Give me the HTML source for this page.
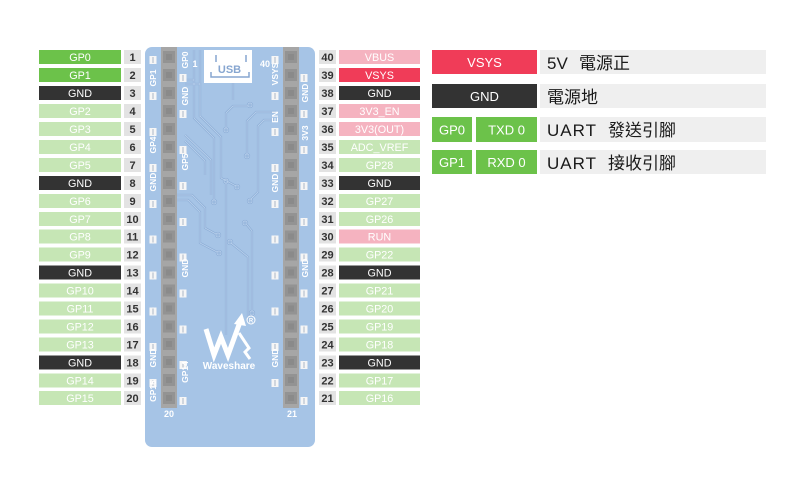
<!DOCTYPE html>
<html><head><meta charset="utf-8"><style>
html,body{margin:0;padding:0;background:#fff;}
svg{display:block;}
.l{font-family:"Liberation Sans","Noto Sans CJK TC",sans-serif;font-size:10.8px;fill:#fff;text-anchor:middle;}
.n{font-family:"Liberation Sans",sans-serif;font-size:11px;font-weight:bold;fill:#333;text-anchor:middle;}
.r{font-family:"Liberation Sans",sans-serif;font-size:8.5px;font-weight:bold;fill:#fff;text-anchor:middle;}
.b{font-family:"Liberation Sans",sans-serif;font-size:9px;font-weight:bold;fill:#fff;text-anchor:middle;}
.k{font-family:"Liberation Sans","Noto Sans CJK TC",sans-serif;font-size:13px;fill:#fff;text-anchor:middle;}
.t{font-family:"Liberation Sans","Noto Sans CJK TC",sans-serif;font-size:17px;fill:#1a1a1a;}
.u{letter-spacing:1px;}
.tr{fill:none;stroke:#8cadd6;stroke-width:2.2;}
.tr2{fill:none;stroke:#b8d0ec;stroke-width:0.9;}
</style></head><body>
<svg width="800" height="500" viewBox="0 0 800 500" xmlns="http://www.w3.org/2000/svg">
<defs>
<g id="pad"><rect x="-0.5" y="0" width="7" height="8" fill="#f6f6f6"/><rect x="2.5" y="1" width="1" height="6" fill="#a9b6c6"/></g>
<g id="pin"><rect x="0" y="0" width="12" height="12" fill="#939393"/><rect x="3" y="3" width="6" height="6" fill="#8a8a8a"/></g>
<g id="traces">
<path d="M185,80 H194 V118 L214,138 V200"/><circle cx="214" cy="202" r="2"/>
<path d="M185,84 H200 V116 L221,137 V178 L236,186"/><circle cx="237" cy="187" r="2"/>
<path d="M226,128 V113 L233,106 H248"/><circle cx="226" cy="130" r="2"/><circle cx="250" cy="105" r="2"/>
<path d="M276,112 H256 L247,121 V154"/><circle cx="247" cy="156" r="2"/>
<path d="M276,120 H264 L258,126 V192 L251,199"/><circle cx="250" cy="201" r="2"/>
<path d="M185,135 L211,160 V195"/>
<path d="M185,141 L205,161 V175"/>
<path d="M177,195 H192 L205,208 V228 L216,234"/><circle cx="218" cy="235" r="2"/>
<path d="M177,200 H188 L200,212 V243 L217,252"/><circle cx="219" cy="253" r="2"/>
<path d="M231,243 L248,257 V322"/><circle cx="230" cy="242" r="2"/>
<path d="M226,183 V335"/><circle cx="226" cy="181" r="2"/>
<path d="M247,225 L252,231 V311"/><circle cx="245" cy="223" r="2"/><circle cx="252" cy="313" r="2"/>
<path d="M200,117 V50"/><path d="M194,50 V80"/>
<path d="M233,60 V100"/>
</g>
</defs>
<rect width="800" height="500" fill="#fff"/>

<!-- Board -->
<rect x="145" y="47" width="170" height="400" rx="7" fill="#a6c4e6"/>

<!-- traces -->
<use href="#traces" class="tr"/>
<use href="#traces" class="tr2"/>

<!-- USB -->
<rect x="204" y="50" width="48" height="33" fill="#fff"/>
<g fill="none" stroke="#87a6d0" stroke-width="1.5">
<path d="M216,55 V62"/><path d="M246,55 V62"/>
<path d="M211,72 V77 H249 V72"/>
</g>
<text x="229.5" y="73" font-family="Liberation Sans, sans-serif" font-size="11" font-weight="bold" fill="#87a6d0" text-anchor="middle">USB</text>

<!-- headers -->
<rect x="161" y="47" width="16" height="361" fill="#a6a6a6"/>
<rect x="283" y="47" width="16" height="361" fill="#a6a6a6"/>
<g>
<use href="#pin" x="163" y="51"/><use href="#pin" x="163" y="69"/><use href="#pin" x="163" y="87"/><use href="#pin" x="163" y="105"/><use href="#pin" x="163" y="123"/><use href="#pin" x="163" y="141"/><use href="#pin" x="163" y="159"/><use href="#pin" x="163" y="177"/><use href="#pin" x="163" y="195"/><use href="#pin" x="163" y="213"/><use href="#pin" x="163" y="230.5"/><use href="#pin" x="163" y="248.5"/><use href="#pin" x="163" y="266.5"/><use href="#pin" x="163" y="284.5"/><use href="#pin" x="163" y="302.5"/><use href="#pin" x="163" y="320.5"/><use href="#pin" x="163" y="338"/><use href="#pin" x="163" y="356"/><use href="#pin" x="163" y="374"/><use href="#pin" x="163" y="392"/>
<use href="#pin" x="285" y="51"/><use href="#pin" x="285" y="69"/><use href="#pin" x="285" y="87"/><use href="#pin" x="285" y="105"/><use href="#pin" x="285" y="123"/><use href="#pin" x="285" y="141"/><use href="#pin" x="285" y="159"/><use href="#pin" x="285" y="177"/><use href="#pin" x="285" y="195"/><use href="#pin" x="285" y="213"/><use href="#pin" x="285" y="230.5"/><use href="#pin" x="285" y="248.5"/><use href="#pin" x="285" y="266.5"/><use href="#pin" x="285" y="284.5"/><use href="#pin" x="285" y="302.5"/><use href="#pin" x="285" y="320.5"/><use href="#pin" x="285" y="338"/><use href="#pin" x="285" y="356"/><use href="#pin" x="285" y="374"/><use href="#pin" x="285" y="392"/>
</g>

<!-- pads -->
<g>
<use href="#pad" x="150" y="56"/><use href="#pad" x="180" y="74"/><use href="#pad" x="150" y="92"/><use href="#pad" x="180" y="110"/><use href="#pad" x="150" y="128"/><use href="#pad" x="180" y="146"/><use href="#pad" x="150" y="164"/><use href="#pad" x="180" y="182"/><use href="#pad" x="150" y="200"/><use href="#pad" x="180" y="218"/><use href="#pad" x="150" y="235.5"/><use href="#pad" x="180" y="253.5"/><use href="#pad" x="150" y="271.5"/><use href="#pad" x="180" y="289.5"/><use href="#pad" x="150" y="307.5"/><use href="#pad" x="180" y="325.5"/><use href="#pad" x="150" y="343"/><use href="#pad" x="180" y="361"/><use href="#pad" x="150" y="379"/><use href="#pad" x="180" y="397"/>
<use href="#pad" x="272" y="56"/><use href="#pad" x="301" y="74"/><use href="#pad" x="272" y="92"/><use href="#pad" x="301" y="110"/><use href="#pad" x="272" y="128"/><use href="#pad" x="301" y="146"/><use href="#pad" x="272" y="164"/><use href="#pad" x="301" y="182"/><use href="#pad" x="272" y="200"/><use href="#pad" x="301" y="218"/><use href="#pad" x="272" y="235.5"/><use href="#pad" x="301" y="253.5"/><use href="#pad" x="272" y="271.5"/><use href="#pad" x="301" y="289.5"/><use href="#pad" x="272" y="307.5"/><use href="#pad" x="301" y="325.5"/><use href="#pad" x="272" y="343"/><use href="#pad" x="301" y="361"/><use href="#pad" x="272" y="379"/><use href="#pad" x="301" y="397"/>
</g>

<!-- rotated board labels -->
<g>
<text class="r" transform="translate(153,78) rotate(-90)" dy="3">GP1</text>
<text class="r" transform="translate(153,145) rotate(-90)" dy="3">GP4</text>
<text class="r" transform="translate(153,182) rotate(-90)" dy="3">GND</text>
<text class="r" transform="translate(153,358) rotate(-90)" dy="3">GND</text>
<text class="r" transform="translate(153,391) rotate(-90)" dy="3">GP15</text>
<text class="r" transform="translate(185,60) rotate(-90)" dy="3">GP0</text>
<text class="r" transform="translate(185,96) rotate(-90)" dy="3">GND</text>
<text class="r" transform="translate(185,162) rotate(-90)" dy="3">GP5</text>
<text class="r" transform="translate(185,268) rotate(-90)" dy="3">GND</text>
<text class="r" transform="translate(185,372) rotate(-90)" dy="3">GP14</text>
<text class="r" transform="translate(275,74) rotate(-90)" dy="3">VSYS</text>
<text class="r" transform="translate(275,117) rotate(-90)" dy="3">EN</text>
<text class="r" transform="translate(275,183) rotate(-90)" dy="3">GND</text>
<text class="r" transform="translate(275,358) rotate(-90)" dy="3">GND</text>
<text class="r" transform="translate(305,93) rotate(-90)" dy="3">GND</text>
<text class="r" transform="translate(305,133) rotate(-90)" dy="3">3V3</text>
<text class="r" transform="translate(305,268) rotate(-90)" dy="3">GND</text>
<text class="b" x="195" y="67">1</text>
<text class="b" x="265" y="67">40</text>
<text class="b" x="169" y="417">20</text>
<text class="b" x="292" y="417">21</text>
</g>

<!-- logo -->
<g fill="none" stroke="#fff" stroke-linejoin="miter">
<polyline points="206,329 214,355 221,337 228,355 240,322" stroke-width="5"/>
<polyline points="239,333 249,348 245,352 250,359" stroke-width="3"/>
</g>
<polygon points="234,324 242,313 246,326" fill="#fff"/>
<circle cx="251" cy="320" r="4" fill="none" stroke="#fff" stroke-width="1"/>
<text x="251" y="322.5" font-family="Liberation Sans, sans-serif" font-size="6" font-weight="bold" fill="#fff" text-anchor="middle">R</text>
<text x="229" y="369" font-family="Liberation Sans, sans-serif" font-size="10" font-weight="bold" fill="#fff" text-anchor="middle">Waveshare</text>

<!-- pin rows -->
<g>
<g transform="translate(0,50)"><rect x="39" width="82" height="14" fill="#6cc24a"/><text class="l" x="80" y="11">GP0</text><rect x="124" width="17" height="14" fill="#e3e3e3"/><text class="n" x="132.5" y="11">1</text><rect x="319" width="17" height="14" fill="#e3e3e3"/><text class="n" x="327.5" y="11">40</text><rect x="339" width="81" height="14" fill="#f5b3c0"/><text class="l" x="379.5" y="11">VBUS</text></g>
<g transform="translate(0,68)"><rect x="39" width="82" height="14" fill="#6cc24a"/><text class="l" x="80" y="11">GP1</text><rect x="124" width="17" height="14" fill="#e3e3e3"/><text class="n" x="132.5" y="11">2</text><rect x="319" width="17" height="14" fill="#e3e3e3"/><text class="n" x="327.5" y="11">39</text><rect x="339" width="81" height="14" fill="#f03c58"/><text class="l" x="379.5" y="11">VSYS</text></g>
<g transform="translate(0,86)"><rect x="39" width="82" height="14" fill="#333"/><text class="l" x="80" y="11">GND</text><rect x="124" width="17" height="14" fill="#e3e3e3"/><text class="n" x="132.5" y="11">3</text><rect x="319" width="17" height="14" fill="#e3e3e3"/><text class="n" x="327.5" y="11">38</text><rect x="339" width="81" height="14" fill="#333"/><text class="l" x="379.5" y="11">GND</text></g>
<g transform="translate(0,104)"><rect x="39" width="82" height="14" fill="#c6e6b5"/><text class="l" x="80" y="11">GP2</text><rect x="124" width="17" height="14" fill="#e3e3e3"/><text class="n" x="132.5" y="11">4</text><rect x="319" width="17" height="14" fill="#e3e3e3"/><text class="n" x="327.5" y="11">37</text><rect x="339" width="81" height="14" fill="#f5b3c0"/><text class="l" x="379.5" y="11">3V3_EN</text></g>
<g transform="translate(0,122)"><rect x="39" width="82" height="14" fill="#c6e6b5"/><text class="l" x="80" y="11">GP3</text><rect x="124" width="17" height="14" fill="#e3e3e3"/><text class="n" x="132.5" y="11">5</text><rect x="319" width="17" height="14" fill="#e3e3e3"/><text class="n" x="327.5" y="11">36</text><rect x="339" width="81" height="14" fill="#f5b3c0"/><text class="l" x="379.5" y="11">3V3(OUT)</text></g>
<g transform="translate(0,140)"><rect x="39" width="82" height="14" fill="#c6e6b5"/><text class="l" x="80" y="11">GP4</text><rect x="124" width="17" height="14" fill="#e3e3e3"/><text class="n" x="132.5" y="11">6</text><rect x="319" width="17" height="14" fill="#e3e3e3"/><text class="n" x="327.5" y="11">35</text><rect x="339" width="81" height="14" fill="#c6e6b5"/><text class="l" x="379.5" y="11">ADC_VREF</text></g>
<g transform="translate(0,158)"><rect x="39" width="82" height="14" fill="#c6e6b5"/><text class="l" x="80" y="11">GP5</text><rect x="124" width="17" height="14" fill="#e3e3e3"/><text class="n" x="132.5" y="11">7</text><rect x="319" width="17" height="14" fill="#e3e3e3"/><text class="n" x="327.5" y="11">34</text><rect x="339" width="81" height="14" fill="#c6e6b5"/><text class="l" x="379.5" y="11">GP28</text></g>
<g transform="translate(0,176)"><rect x="39" width="82" height="14" fill="#333"/><text class="l" x="80" y="11">GND</text><rect x="124" width="17" height="14" fill="#e3e3e3"/><text class="n" x="132.5" y="11">8</text><rect x="319" width="17" height="14" fill="#e3e3e3"/><text class="n" x="327.5" y="11">33</text><rect x="339" width="81" height="14" fill="#333"/><text class="l" x="379.5" y="11">GND</text></g>
<g transform="translate(0,194)"><rect x="39" width="82" height="14" fill="#c6e6b5"/><text class="l" x="80" y="11">GP6</text><rect x="124" width="17" height="14" fill="#e3e3e3"/><text class="n" x="132.5" y="11">9</text><rect x="319" width="17" height="14" fill="#e3e3e3"/><text class="n" x="327.5" y="11">32</text><rect x="339" width="81" height="14" fill="#c6e6b5"/><text class="l" x="379.5" y="11">GP27</text></g>
<g transform="translate(0,212)"><rect x="39" width="82" height="14" fill="#c6e6b5"/><text class="l" x="80" y="11">GP7</text><rect x="124" width="17" height="14" fill="#e3e3e3"/><text class="n" x="132.5" y="11">10</text><rect x="319" width="17" height="14" fill="#e3e3e3"/><text class="n" x="327.5" y="11">31</text><rect x="339" width="81" height="14" fill="#c6e6b5"/><text class="l" x="379.5" y="11">GP26</text></g>
<g transform="translate(0,229.5)"><rect x="39" width="82" height="14" fill="#c6e6b5"/><text class="l" x="80" y="11">GP8</text><rect x="124" width="17" height="14" fill="#e3e3e3"/><text class="n" x="132.5" y="11">11</text><rect x="319" width="17" height="14" fill="#e3e3e3"/><text class="n" x="327.5" y="11">30</text><rect x="339" width="81" height="14" fill="#f5b3c0"/><text class="l" x="379.5" y="11">RUN</text></g>
<g transform="translate(0,247.5)"><rect x="39" width="82" height="14" fill="#c6e6b5"/><text class="l" x="80" y="11">GP9</text><rect x="124" width="17" height="14" fill="#e3e3e3"/><text class="n" x="132.5" y="11">12</text><rect x="319" width="17" height="14" fill="#e3e3e3"/><text class="n" x="327.5" y="11">29</text><rect x="339" width="81" height="14" fill="#c6e6b5"/><text class="l" x="379.5" y="11">GP22</text></g>
<g transform="translate(0,265.5)"><rect x="39" width="82" height="14" fill="#333"/><text class="l" x="80" y="11">GND</text><rect x="124" width="17" height="14" fill="#e3e3e3"/><text class="n" x="132.5" y="11">13</text><rect x="319" width="17" height="14" fill="#e3e3e3"/><text class="n" x="327.5" y="11">28</text><rect x="339" width="81" height="14" fill="#333"/><text class="l" x="379.5" y="11">GND</text></g>
<g transform="translate(0,283.5)"><rect x="39" width="82" height="14" fill="#c6e6b5"/><text class="l" x="80" y="11">GP10</text><rect x="124" width="17" height="14" fill="#e3e3e3"/><text class="n" x="132.5" y="11">14</text><rect x="319" width="17" height="14" fill="#e3e3e3"/><text class="n" x="327.5" y="11">27</text><rect x="339" width="81" height="14" fill="#c6e6b5"/><text class="l" x="379.5" y="11">GP21</text></g>
<g transform="translate(0,301.5)"><rect x="39" width="82" height="14" fill="#c6e6b5"/><text class="l" x="80" y="11">GP11</text><rect x="124" width="17" height="14" fill="#e3e3e3"/><text class="n" x="132.5" y="11">15</text><rect x="319" width="17" height="14" fill="#e3e3e3"/><text class="n" x="327.5" y="11">26</text><rect x="339" width="81" height="14" fill="#c6e6b5"/><text class="l" x="379.5" y="11">GP20</text></g>
<g transform="translate(0,319.5)"><rect x="39" width="82" height="14" fill="#c6e6b5"/><text class="l" x="80" y="11">GP12</text><rect x="124" width="17" height="14" fill="#e3e3e3"/><text class="n" x="132.5" y="11">16</text><rect x="319" width="17" height="14" fill="#e3e3e3"/><text class="n" x="327.5" y="11">25</text><rect x="339" width="81" height="14" fill="#c6e6b5"/><text class="l" x="379.5" y="11">GP19</text></g>
<g transform="translate(0,337.5)"><rect x="39" width="82" height="14" fill="#c6e6b5"/><text class="l" x="80" y="11">GP13</text><rect x="124" width="17" height="14" fill="#e3e3e3"/><text class="n" x="132.5" y="11">17</text><rect x="319" width="17" height="14" fill="#e3e3e3"/><text class="n" x="327.5" y="11">24</text><rect x="339" width="81" height="14" fill="#c6e6b5"/><text class="l" x="379.5" y="11">GP18</text></g>
<g transform="translate(0,355.5)"><rect x="39" width="82" height="14" fill="#333"/><text class="l" x="80" y="11">GND</text><rect x="124" width="17" height="14" fill="#e3e3e3"/><text class="n" x="132.5" y="11">18</text><rect x="319" width="17" height="14" fill="#e3e3e3"/><text class="n" x="327.5" y="11">23</text><rect x="339" width="81" height="14" fill="#333"/><text class="l" x="379.5" y="11">GND</text></g>
<g transform="translate(0,373.5)"><rect x="39" width="82" height="14" fill="#c6e6b5"/><text class="l" x="80" y="11">GP14</text><rect x="124" width="17" height="14" fill="#e3e3e3"/><text class="n" x="132.5" y="11">19</text><rect x="319" width="17" height="14" fill="#e3e3e3"/><text class="n" x="327.5" y="11">22</text><rect x="339" width="81" height="14" fill="#c6e6b5"/><text class="l" x="379.5" y="11">GP17</text></g>
<g transform="translate(0,391)"><rect x="39" width="82" height="14" fill="#c6e6b5"/><text class="l" x="80" y="11">GP15</text><rect x="124" width="17" height="14" fill="#e3e3e3"/><text class="n" x="132.5" y="11">20</text><rect x="319" width="17" height="14" fill="#e3e3e3"/><text class="n" x="327.5" y="11">21</text><rect x="339" width="81" height="14" fill="#c6e6b5"/><text class="l" x="379.5" y="11">GP16</text></g>
</g>

<!-- legend -->
<g>
<rect x="432" y="50" width="105" height="24" fill="#f03c58"/><text class="k" x="484.5" y="67">VSYS</text>
<rect x="540" y="50" width="226" height="24" fill="#efefef"/>
<text class="t" x="547" y="69">5V</text><text class="t" x="579" y="69">電源正</text>

<rect x="432" y="84" width="105" height="24" fill="#333"/><text class="k" x="484.5" y="101">GND</text>
<rect x="540" y="84" width="226" height="24" fill="#efefef"/>
<text class="t" x="547" y="103">電源地</text>

<rect x="432" y="117" width="40" height="25" fill="#6cc24a"/><text class="k" x="452" y="134.5">GP0</text>
<rect x="476" y="117" width="61" height="25" fill="#6cc24a"/><text class="k" x="506.5" y="134.5">TXD 0</text>
<rect x="540" y="117" width="226" height="25" fill="#efefef"/>
<text class="t u" x="547" y="136">UART</text><text class="t" x="608" y="136">發送引腳</text>

<rect x="432" y="150" width="40" height="24" fill="#6cc24a"/><text class="k" x="452" y="167">GP1</text>
<rect x="476" y="150" width="61" height="24" fill="#6cc24a"/><text class="k" x="506.5" y="167">RXD 0</text>
<rect x="540" y="150" width="226" height="24" fill="#efefef"/>
<text class="t u" x="547" y="169">UART</text><text class="t" x="608" y="169">接收引腳</text>
</g>
</svg>
</body></html>
